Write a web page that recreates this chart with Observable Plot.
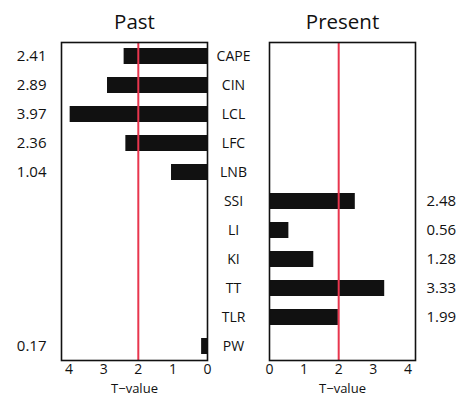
<!DOCTYPE html>
<html>
<head>
<meta charset="utf-8">
<script src="https://cdn.jsdelivr.net/npm/d3@7"></script>
<script src="https://cdn.jsdelivr.net/npm/@observablehq/plot@0.6"></script>
<style>
  html, body { margin: 0; padding: 0; background: #fff; }
  #chart { display: flex; width: 463px; height: 397px; }
  #chart svg { background: transparent; }
</style>
</head>
<body>
<div id="chart"></div>
<script>
// Stability indices, top to bottom
const indices = ["CAPE", "CIN", "LCL", "LFC", "LNB", "SSI", "LI", "KI", "TT", "TLR", "PW"];

// Past period: T-values
const pastIndices = ["CAPE", "CIN", "LCL", "LFC", "LNB", "PW"];
const pastT = [2.41, 2.89, 3.97, 2.36, 1.04, 0.17];

// Present period: T-values
const presentIndices = ["SSI", "LI", "KI", "TT", "TLR"];
const presentT = [2.48, 0.56, 1.28, 3.33, 1.99];

const threshold = [2];
const xTicks = [0, 1, 2, 3, 4];
const xMax = 4.22;

const past = pastIndices.map((k, i) => ({index: k, t: pastT[i]}));
const present = presentIndices.map((k, i) => ({index: k, t: presentT[i]}));

const font = "Open Sans, Lato, sans-serif";
const red = "#e8364e";

function panel({title, data, reverse, width, marginLeft, marginRight, valueSide, rowLabels}) {
  const marks = [
    Plot.barX(data, {x: "t", y: "index", fill: "#111"}),
    Plot.ruleX(threshold, {stroke: red, strokeWidth: 2}),
    Plot.frame({stroke: "#111", strokeWidth: 1.6}),
    Plot.axisX({ticks: xTicks, tickSize: 0, tickFormat: d => d, label: null, fontSize: 14, tickPadding: 4}),
    Plot.text([title], {frameAnchor: "top", lineAnchor: "middle", dy: -20, fontSize: 20.5, fill: "#111"}),
    Plot.text(["T\u2212value"], {frameAnchor: "bottom", lineAnchor: "middle", dy: 28, fontSize: 13, fill: "#111"}),
    valueSide === "left"
      ? Plot.text(data, {x: xMax, y: "index", text: d => d.t.toFixed(2), textAnchor: "end", dx: -15, fontSize: 15, fill: "#111"})
      : Plot.text(data, {x: xMax, y: "index", text: d => d.t.toFixed(2), textAnchor: "start", dx: 11, fontSize: 15, fill: "#111"})
  ];
  if (rowLabels) {
    marks.push(Plot.text(indices, {x: 0, y: d => d, text: d => d, textAnchor: "middle", dx: -36, fontSize: 14, fill: "#111"}));
  }
  return Plot.plot({
    width,
    height: 397,
    marginTop: 42,
    marginBottom: 37,
    marginLeft,
    marginRight,
    style: {fontFamily: font, background: "transparent", color: "#111"},
    x: {domain: reverse ? [xMax, 0] : [0, xMax]},
    y: {domain: indices, paddingInner: 0.44, paddingOuter: 0.165, axis: null},
    marks
  });
}

const chart = document.getElementById("chart");
chart.append(panel({title: "Past", data: past, reverse: true, width: 216, marginLeft: 61, marginRight: 9, valueSide: "left", rowLabels: false}));
chart.append(panel({title: "Present", data: present, reverse: false, width: 247, marginLeft: 53, marginRight: 48, valueSide: "right", rowLabels: true}));
</script>
</body>
</html>
